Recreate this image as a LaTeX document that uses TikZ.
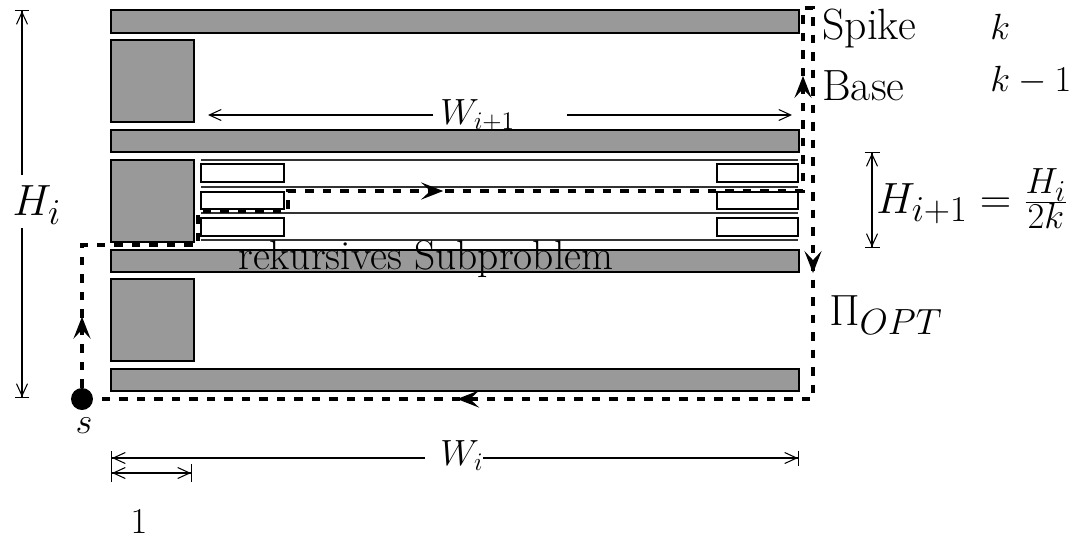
\documentclass[tikz,border=0pt]{standalone}
\usetikzlibrary{arrows.meta, decorations.markings, positioning}
\definecolor{wallgray}{HTML}{999999}
\definecolor{lanegray}{HTML}{333333}

\begin{document}
\begin{tikzpicture}[
  x=0.02cm, y=-0.02cm,
  every node/.style={font=\huge, inner sep=0pt},
  big/.style={font=\Huge},
  wall/.style={draw=black, line width=0.8pt, fill=wallgray},
  slot/.style={draw=black, line width=0.8pt, fill=white},
  lane/.style={draw=lanegray, line width=0.8pt},
  dim/.style={draw=black, line width=0.6pt},
  dot/.style={circle, fill=black, minimum size=0.44cm, inner sep=0pt},
  route/.style={draw=black, line width=2.6pt, dash pattern=on 0.17cm off 0.18cm,
    decoration={markings,
      mark=at position 1.42cm with {\arrow{Stealth[length=4.4mm, width=3.4mm, inset=1.8mm]}},
      mark=at position 11.16cm with {\arrow{Stealth[length=4.4mm, width=3.4mm, inset=1.8mm]}},
      mark=at position 20.66cm with {\arrow{Stealth[length=4.4mm, width=3.4mm, inset=1.8mm]}},
      mark=at position 27.52cm with {\arrow{Stealth[length=4.4mm, width=3.4mm, inset=1.8mm]}},
      mark=at position 37.16cm with {\arrow{Stealth[length=4.4mm, width=3.4mm, inset=1.8mm]}}},
    postaction=decorate},
]
\useasboundingbox (0,0) rectangle (1085,539);

% Walls of the spike
\foreach \ya/\yb in {10/33, 130/152, 250/272, 369/391}
  \draw[wall] (111,\ya) rectangle (799,\yb);
\foreach \ya/\yb in {40/122, 160/242, 279/361}
  \draw[wall] (111,\ya) rectangle (194,\yb);

% Recursive subproblem (smaller copy)
\foreach \y in {160,187,213,240}
  \draw[lane] (201,\y) -- (798,\y);
\foreach \ya/\yb in {164/182, 192/209, 218/236} {
  \draw[slot] (201,\ya) rectangle (284,\yb);
  \draw[slot] (717,\ya) rectangle (798,\yb);
}

\node[anchor=base west, font=\fontsize{23.6}{28}\selectfont] (rek) at (238,269) {rekursives Subproblem};

% Labels on the right
\node[big, anchor=base west] (spike) at (822,39) {Spike};
\node[anchor=base west] (kspike) at (990,39) {$k$};
\node[big, anchor=base west] (base) at (822,100) {Base};
\node[anchor=base west] (kbase) at (990,91) {$k-1$};
\node[big, anchor=base west] (piopt) at (829,325) {$\Pi_{OPT}$};
\node[big, anchor=base west] (hnext) at (876,213) {$H_{i+1}=\frac{H_i}{2k}$};

% === Dimensions ===
% H_i
\coordinate (hitop) at (22,10);
\coordinate (hiup) at (22,175);
\coordinate (hidown) at (22,228);
\coordinate (hibot) at (22,398);
\node[big] (hi) at (37,205) {$H_i$};
\draw[dim, {Bar[width=3mm]Straight Barb[length=2.4mm, width=2.2mm]}-] (hitop) -- (hiup);
\draw[dim, -{Straight Barb[length=2.4mm, width=2.2mm]Bar[width=3mm]}] (hidown) -- (hibot);

% W_{i+1}
\coordinate (wnl) at (208,115);
\coordinate (wnlg) at (433,115);
\coordinate (wnrg) at (567,115);
\coordinate (wnr) at (792,115);
\node[anchor=base west] (wnext) at (440,124) {$W_{i+1}$};
\draw[dim, {Straight Barb[length=2.4mm, width=2.2mm]}-] (wnl) -- (wnlg);
\draw[dim, -{Straight Barb[length=2.4mm, width=2.2mm]}] (wnrg) -- (wnr);

% H_{i+1}
\coordinate (hntop) at (872,152);
\coordinate (hnbot) at (872,248);
\draw[dim, {Bar[width=3mm]Straight Barb[length=2.4mm, width=2.2mm]}-{Straight Barb[length=2.4mm, width=2.2mm]Bar[width=3mm]}] (hntop) -- (hnbot);

% W_i
\coordinate (wil) at (111,458);
\coordinate (wilg) at (425,458);
\coordinate (wirg) at (483,458);
\coordinate (wir) at (799,458);
\node[anchor=base west] (wi) at (440,465) {$W_i$};
\draw[dim, {Bar[width=3mm]Straight Barb[length=2.4mm, width=2.2mm]}-] (wil) -- (wilg);
\draw[dim, -{Straight Barb[length=2.4mm, width=2.2mm]Bar[width=3mm]}] (wirg) -- (wir);

% unit width
\coordinate (onel) at (111,473);
\coordinate (oner) at (192,473);
\draw[dim, {Bar[width=3.6mm]Straight Barb[length=2.4mm, width=2.2mm]}-{Straight Barb[length=2.4mm, width=2.2mm]Bar[width=3.6mm]}] (onel) -- (oner);
\node (one) at (139,522) {$1$};

% === Optimal route Pi_OPT ===
\node[dot] (s) at (82,399) {};
\node (slbl) at (84,426) {$s$};
\draw[route] (s.north) -- (82,245) -- (198,245) -- (198,211) -- (288,211)
  -- (288,191) -- (803,191) -- (803,8) -- (813,8) -- (813,399) -- (s.east);

\end{tikzpicture}
\end{document}
